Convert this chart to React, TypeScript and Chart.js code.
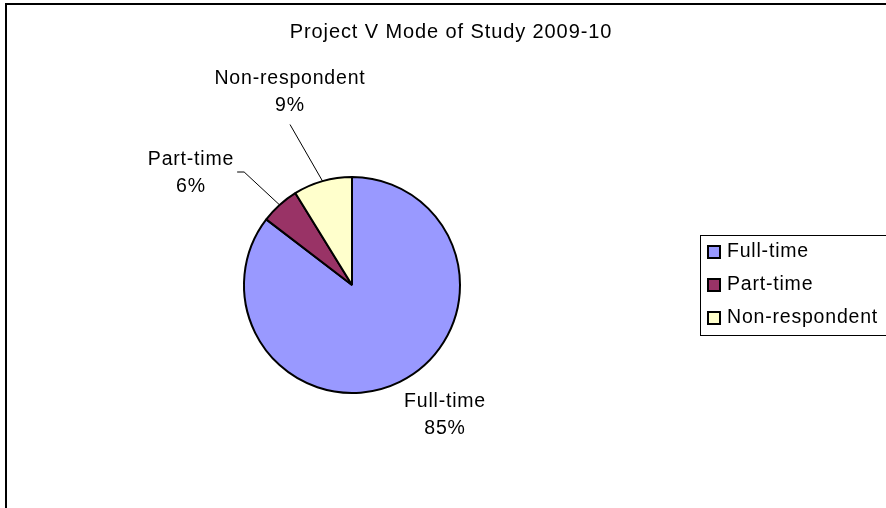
import React, { useEffect, useRef } from "react";
import { Chart, registerables } from "chart.js";

Chart.register(...registerables);

const TITLE = "Project V Mode of Study 2009-10";
const categories = ["Full-time", "Part-time", "Non-respondent"];
const values = [85.4, 5.8, 8.8];
const colors = ["#9999FF", "#993366", "#FFFFCC"];

const FONT = '"Liberation Sans", Arial, Helvetica, sans-serif';

// label block placement relative to the pie centre, and leader style
const labelLayout = [
  { dx: 93, dy: 130, leader: "none" },
  { dx: -161, dy: -112, leader: "right" },
  { dx: -62, dy: -193, leader: "bottom" },
];

const decorPlugin = {
  id: "decor",
  afterDraw(chart: any) {
    const ctx: CanvasRenderingContext2D = chart.ctx;
    ctx.save();
    // outer frame
    ctx.strokeStyle = "#000";
    ctx.lineWidth = 2;
    ctx.beginPath();
    ctx.moveTo(6, 2000);
    ctx.lineTo(6, 4);
    ctx.lineTo(2000, 4);
    ctx.stroke();

    // title
    ctx.fillStyle = "#000";
    ctx.textAlign = "center";
    ctx.textBaseline = "middle";
    ctx.font = `20px ${FONT}`;
    (ctx as any).letterSpacing = "0.9px";
    ctx.fillText(TITLE, 451, 32);
    (ctx as any).letterSpacing = "0.8px";

    // data labels
    const meta = chart.getDatasetMeta(0);
    const data: number[] = chart.data.datasets[0].data;
    const total = data.reduce((a, b) => a + b, 0);
    const lineH = 27;
    ctx.font = `19.5px ${FONT}`;
    meta.data.forEach((arc: any, i: number) => {
      const p = arc.getProps(["x", "y", "startAngle", "endAngle", "outerRadius"], true);
      const lay = labelLayout[i];
      const cx = p.x + lay.dx;
      const cy = p.y + lay.dy;
      const name = chart.data.labels[i];
      const pct = Math.round((data[i] / total) * 100) + "%";
      ctx.fillStyle = "#000";
      ctx.fillText(name, cx, cy - lineH / 2);
      ctx.fillText(pct, cx, cy + lineH / 2);
      const mid = (p.startAngle + p.endAngle) / 2;
      const ex = p.x + Math.cos(mid) * p.outerRadius;
      const ey = p.y + Math.sin(mid) * p.outerRadius;
      ctx.strokeStyle = "#000";
      ctx.lineWidth = 1;
      if (lay.leader === "bottom") {
        ctx.beginPath();
        ctx.moveTo(cx, cy + lineH / 2 + 19);
        ctx.lineTo(ex, ey);
        ctx.stroke();
      } else if (lay.leader === "right") {
        const w = ctx.measureText(name).width;
        const sx = cx + w / 2 + 3;
        const sy = cy - 1;
        ctx.beginPath();
        ctx.moveTo(sx, sy);
        ctx.lineTo(sx + 7, sy);
        ctx.lineTo(ex, ey);
        ctx.stroke();
      }
    });

    // legend
    ctx.strokeStyle = "#000";
    ctx.lineWidth = 1;
    ctx.strokeRect(700.5, 235.5, 400, 100);
    ctx.textAlign = "left";
    const rowY = [252, 285, 318];
    categories.forEach((c, i) => {
      const y = rowY[i];
      ctx.fillStyle = colors[i];
      ctx.fillRect(708, y - 6, 12, 12);
      ctx.lineWidth = 2;
      ctx.strokeStyle = "#000";
      ctx.strokeRect(708, y - 6, 12, 12);
      ctx.fillStyle = "#000";
      ctx.fillText(chart.data.labels[i], 727, y);
    });
    ctx.restore();
  },
};

export default function App() {
  const ref = useRef<HTMLCanvasElement | null>(null);
  useEffect(() => {
    document.body.style.margin = "0";
    const chart = new Chart(ref.current as HTMLCanvasElement, {
      type: "pie",
      data: {
        labels: categories,
        datasets: [
          {
            data: values,
            backgroundColor: colors,
            borderColor: "#000",
            borderWidth: 2,
          },
        ],
      },
      options: {
        responsive: false,
        animation: false,
        layout: { padding: { left: 243, right: 425, top: 176, bottom: 114 } },
        plugins: {
          legend: { display: false },
          title: { display: false },
          tooltip: { enabled: false },
        },
      },
      plugins: [decorPlugin],
    });
    return () => chart.destroy();
  }, []);
  return (
    <div style={{ width: 886, height: 508, background: "#fff" }}>
      <canvas ref={ref} width={886} height={508} />
    </div>
  );
}
